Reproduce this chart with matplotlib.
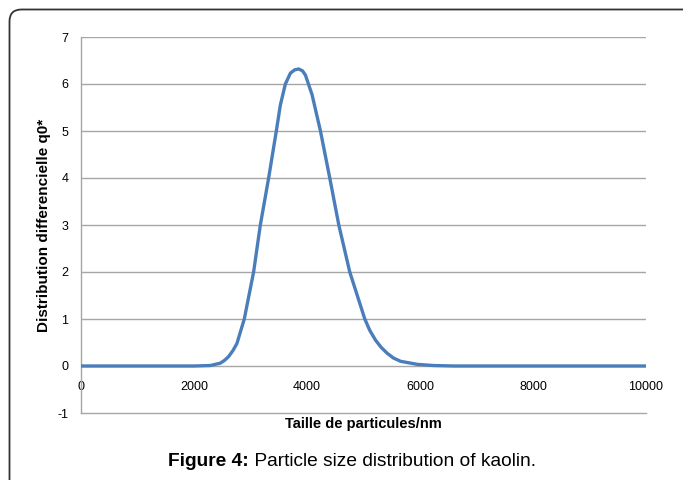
#------------------------------------------------imports---------------------------------------------------------------
import matplotlib
matplotlib.use("Agg")
import matplotlib.pyplot as plt
from matplotlib.patches import FancyBboxPatch

#--------------------------------------------------data----------------------------------------------------------------
taille = [0, 1000, 2000, 2287, 2465, 2540, 2612, 2690, 2760, 2890, 3055, 3174, 3321, 3457, 3528,
          3617, 3706, 3780, 3853, 3920, 3972, 4090, 4238, 4403, 4563, 4757, 5023, 5110, 5213,
          5310, 5420, 5530, 5656, 5952, 6241, 6600, 8000, 10000]
q0 = [0, 0, 0, 0.01, 0.06, 0.12, 0.20, 0.33, 0.48, 1.0, 2.0, 3.0, 4.0, 5.0, 5.55,
      6.0, 6.23, 6.30, 6.32, 6.28, 6.19, 5.77, 5.0, 4.0, 3.0, 2.0, 1.0, 0.76, 0.55,
      0.40, 0.27, 0.17, 0.10, 0.035, 0.01, 0, 0, 0]

x_ticks = [0, 2000, 4000, 6000, 8000, 10000]
y_ticks = [-1, 0, 1, 2, 3, 4, 5, 6, 7]

#-------------------------------------------------settings-------------------------------------------------------------
plt.rcParams['font.family'] = ['Liberation Sans', 'DejaVu Sans']

#---------------------------------------------------plotting-----------------------------------------------------------
fig = plt.figure(figsize=(6.83, 4.8), dpi=100)
ax = fig.add_axes([81 / 683, 1 - 413 / 480, 565 / 683, 376 / 480])

ax.plot(taille, q0, color='#4a7ebb', lw=2.4, solid_joinstyle='round', zorder=3)

ax.set_xlim(0, 10000)
ax.set_ylim(-1, 7)
ax.set_xticks(x_ticks)
ax.set_yticks(y_ticks)
ax.set_xticklabels([str(t) for t in x_ticks], fontsize=9)
ax.set_yticklabels([str(t) for t in y_ticks], fontsize=9)
ax.tick_params(axis='x', length=0, pad=-23)
ax.tick_params(axis='y', length=0, pad=9)

for y in y_ticks[1:]:
    ax.axhline(y, color='#a6a6a6', lw=1.0, zorder=1)

for s in ['top', 'right']:
    ax.spines[s].set_visible(False)
for s in ['left', 'bottom']:
    ax.spines[s].set_color('#a6a6a6')
    ax.spines[s].set_linewidth(1.0)

ax.set_ylabel('Distribution differencielle q0*', fontsize=11, fontweight='bold', labelpad=5)
ax.set_xlabel('Taille de particules/nm', fontsize=10.5, fontweight='bold', labelpad=3)

#--------------------------------------------------caption-------------------------------------------------------------
renderer = fig.canvas.get_renderer()
part1 = fig.text(0, 0, 'Figure 4:', fontsize=13.8, fontweight='bold')
part2 = fig.text(0, 0, ' Particle size distribution of kaolin.', fontsize=13.8)
w1 = part1.get_window_extent(renderer).width
w2 = part2.get_window_extent(renderer).width
x0 = 352 - (w1 + w2) / 2
yc = 480 - 461
part1.set_transform(None)
part2.set_transform(None)
part1.set_position((x0, yc))
part2.set_position((x0 + w1, yc))
part1.set_va('center')
part2.set_va('center')

frame = FancyBboxPatch((9.5, -30), 720, 480 - 9.5 + 30, boxstyle='round,pad=0,rounding_size=12',
                       transform=None, fill=False, edgecolor='#333333', lw=1.3)
fig.patches.append(frame)

#----------------------------------------------------saving------------------------------------------------------------
fig.savefig('out.png', dpi=100)
